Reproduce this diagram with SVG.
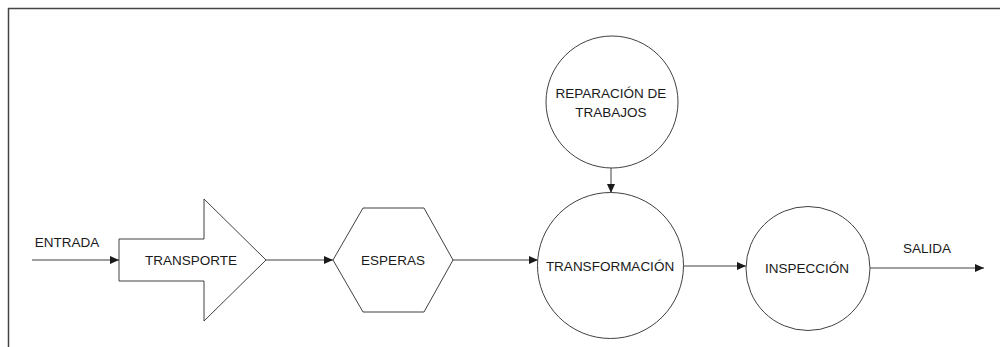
<svg xmlns="http://www.w3.org/2000/svg" width="1000" height="347" viewBox="0 0 1000 347">
<defs>
<marker id="ah" markerWidth="9" markerHeight="8" refX="9" refY="4" orient="auto" markerUnits="userSpaceOnUse">
<path d="M0,0 L9,4 L0,8 Z" fill="#1a1a1a"/>
</marker>
<style>
.shape{fill:#ffffff;stroke:#404040;stroke-width:1}
.conn{stroke:#404040;stroke-width:1;fill:none;marker-end:url(#ah)}
.lbl{font-family:"Liberation Sans",Arial,sans-serif;font-size:13.5px;fill:#1a1a1a;text-anchor:middle}
</style>
</defs>
<rect width="1000" height="347" fill="#ffffff"/>
<g id="frame">
<path d="M8.5,347 L8.5,8.5 L1000,8.5" fill="none" stroke="#444444" stroke-width="1.5"/>
</g>
<g id="connectors">
<line class="conn" x1="32" y1="260" x2="119" y2="260"/>
<line class="conn" x1="266" y1="260" x2="333" y2="260"/>
<line class="conn" x1="453" y1="260" x2="538" y2="260"/>
<line class="conn" x1="611" y1="168" x2="611" y2="193"/>
<line class="conn" x1="684" y1="266" x2="746" y2="266"/>
<line class="conn" x1="869" y1="268" x2="984" y2="268"/>
</g>
<g id="entrada"><text class="lbl" x="67" y="247">ENTRADA</text></g>
<g id="transporte">
<polygon class="shape" points="119,239 204,239 204,199 266,260 204,321 204,281 119,281"/>
<text class="lbl" x="191" y="265">TRANSPORTE</text>
</g>
<g id="esperas">
<polygon class="shape" points="333,260 363,208 424,208 453,260 424,312 363,312"/>
<text class="lbl" x="393" y="265">ESPERAS</text>
</g>
<g id="reparacion">
<circle class="shape" cx="612" cy="102" r="66"/>
<text class="lbl" x="611" y="98">REPARACIÓN DE</text>
<text class="lbl" x="611" y="117">TRABAJOS</text>
</g>
<g id="transformacion">
<circle class="shape" cx="610.5" cy="265.5" r="73"/>
<text class="lbl" x="610" y="271">TRANSFORMACIÓN</text>
</g>
<g id="inspeccion">
<circle class="shape" cx="808" cy="268.5" r="62"/>
<text class="lbl" x="807" y="273">INSPECCIÓN</text>
</g>
<g id="salida"><text class="lbl" x="927" y="253">SALIDA</text></g>
</svg>
